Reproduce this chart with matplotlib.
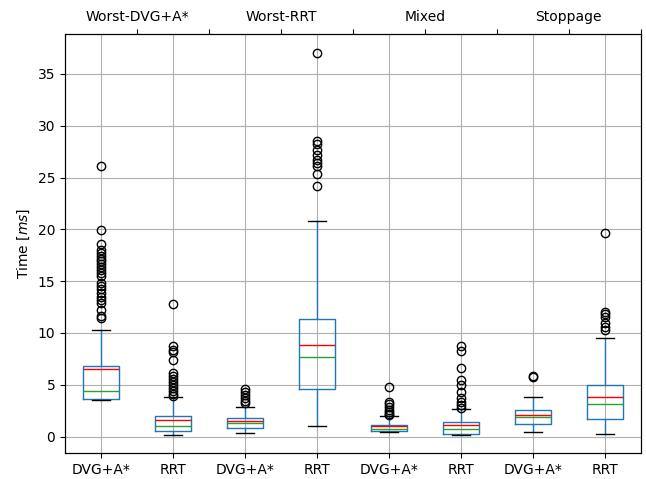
import numpy as np
import matplotlib.pyplot as plt

# x labels and group labels
labels = ["DVG+A*", "RRT", "DVG+A*", "RRT", "DVG+A*", "RRT", "DVG+A*", "RRT"]
groups = ["Worst-DVG+A*", "Worst-RRT", "Mixed", "Stoppage"]

# box stats (ms)
q1 = [3.6, 0.5, 0.84, 4.6, 0.58, 0.29, 1.22, 1.74]
med = [4.4, 1.06, 1.32, 7.65, 0.77, 0.74, 1.9, 3.15]
q3 = [6.8, 1.96, 1.8, 11.35, 1.16, 1.38, 2.54, 5.0]
mean = [6.5, 1.57, 1.48, 8.8, 1.0, 1.16, 2.12, 3.8]
whislo = [3.5, 0.13, 0.36, 1.06, 0.45, 0.13, 0.48, 0.26]
whishi = [10.3, 3.83, 2.86, 20.8, 2.0, 2.7, 3.8, 9.5]

fliers = [
    [26.1, 19.9, 18.6, 18.0, 17.7, 17.4, 17.1, 16.9, 16.7, 16.4, 16.1, 15.8,
     15.5, 14.8, 14.5, 14.2, 13.9, 13.5, 13.2, 12.9, 12.2, 11.6, 11.4],
    [12.8, 8.7, 8.4, 8.2, 7.4, 6.1, 5.8, 5.6, 5.3, 5.0, 4.7, 4.4, 4.1, 3.9],
    [4.6, 4.3, 4.0, 3.7, 3.4, 3.2],
    [37.0, 28.5, 28.2, 27.7, 27.2, 26.7, 26.4, 26.1, 25.3, 24.2],
    [4.75, 3.3, 3.1, 2.9, 2.6, 2.4, 2.2, 2.1],
    [8.78, 8.3, 6.6, 5.43, 5.0, 4.3, 3.7, 3.3, 3.0, 2.8],
    [5.8, 5.7],
    [19.6, 12.0, 11.8, 11.5, 11.0, 10.6, 10.3],
]

stats = []
for i in range(len(labels)):
    stats.append(dict(label=labels[i], q1=q1[i], med=med[i], q3=q3[i],
                      mean=mean[i], whislo=whislo[i], whishi=whishi[i],
                      fliers=np.array(fliers[i])))

fig = plt.figure(figsize=(6.46, 4.79), dpi=100)
ax = fig.add_axes([0.1006, 0.054, 0.8914, 0.875])

ax.bxp(stats, showmeans=True, meanline=True,
       boxprops=dict(color="C0"), whiskerprops=dict(color="C0"),
       capprops=dict(color="k"), medianprops=dict(color="C2"),
       meanprops=dict(color="red", linestyle="-"),
       flierprops=dict(marker="o", markerfacecolor="none", markeredgecolor="k"))
ax.grid(True)
ax.set_axisbelow(True)
ax.set_xlim(0.5, 8.5)
ax.set_ylim(-1.6, 38.85)
ax.set_ylabel("Time [$ms$]")

# group labels on top
ax2 = ax.twiny()
ax2.set_xlim(ax.get_xlim())
top_pos = np.arange(1.5, 9, 1.0)
top_lab = []
for k in range(len(top_pos)):
    top_lab.append(groups[k // 2] if k % 2 == 0 else "")
ax2.set_xticks(top_pos)
ax2.set_xticklabels(top_lab)

fig.savefig("out.png", dpi=100)
